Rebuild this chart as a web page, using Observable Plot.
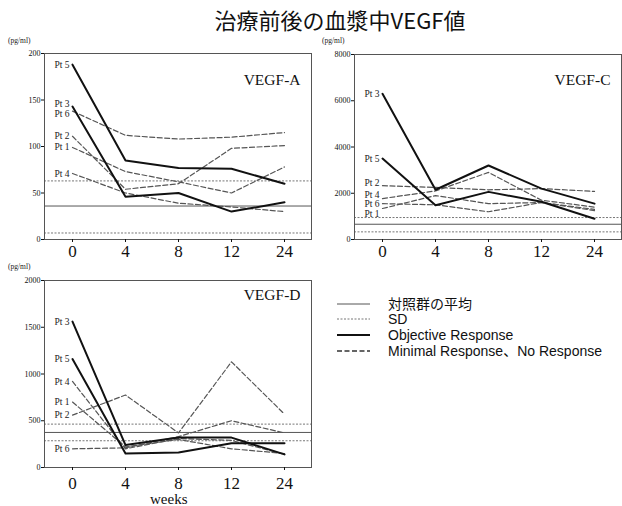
<!DOCTYPE html>
<html>
<head>
<meta charset="utf-8">
<script src="https://cdn.jsdelivr.net/npm/d3@7"></script>
<script src="https://cdn.jsdelivr.net/npm/@observablehq/plot@0.6"></script>
<style>
  html, body { margin: 0; padding: 0; background: #fff; }
  #root { position: relative; width: 622px; height: 506px; overflow: hidden; background: #fff; }
  .title { font-family: "Noto Sans CJK JP", "Noto Sans", sans-serif; font-size: 22px; color: #111; white-space: nowrap; }
  .unit { font-family: "Liberation Serif", serif; font-size: 7.5px; color: #222; white-space: nowrap; }
  .weeks { font-family: "Liberation Serif", serif; font-size: 15px; color: #111; }
</style>
</head>
<body>
<div id="root"></div>
<script>
// ---- data ----
const weeks = ["0", "4", "8", "12", "24"];
const patients = ["Pt 1", "Pt 2", "Pt 3", "Pt 4", "Pt 5", "Pt 6"];
const response = ["MR/NR", "MR/NR", "OR", "MR/NR", "OR", "MR/NR"];

// VEGF-A (pg/ml), rows = Pt 1..Pt 6, columns = weeks
const vegfA = [
  [99, 73, 62, 50, 78],
  [111, 54, 60, 98, 101],
  [143, 46, 50, 30, 40],
  [71, 50, 39, 35, 30],
  [188, 85, 77, 76, 60],
  [138, 112, 108, 110, 115]
];
const vegfAControl = [36, 63, 7]; // mean, mean+SD, mean-SD

const vegfC = [
  [1340, 1900, 1550, 1600, 1250],
  [2330, 2250, 2150, 2200, 2080],
  [6300, 2150, 3200, 2200, 1550],
  [1770, 2100, 2900, 1700, 1400],
  [3500, 1480, 2060, 1630, 900],
  [1550, 1500, 1200, 1600, 1300]
];
const vegfCControl = [660, 950, 330];

const vegfD = [
  [700, 220, 300, 200, 150],
  [560, 775, 370, 1130, 570],
  [1560, 240, 320, 320, 140],
  [920, 200, 310, 290, 140],
  [1160, 150, 160, 260, 260],
  [200, 210, 330, 500, 370]
];
const vegfDControl = [375, 464, 286];

const yTicksA = [0, 50, 100, 150, 200];
const yTicksC = [0, 2000, 4000, 6000, 8000];
const yTicksD = [0, 500, 1000, 1500, 2000];

const legendLabels = ["対照群の平均", "SD", "Objective Response", "Minimal Response、No Response"];

// ---- helpers ----
const root = document.getElementById("root");
function place(el, left, top) {
  el.style.position = "absolute";
  el.style.left = left + "px";
  el.style.top = top + "px";
  root.appendChild(el);
}
function rows(vals) {
  return patients.flatMap((p, i) => weeks.map((w, j) => ({patient: p, resp: response[i], week: w, value: vals[i][j]})));
}

function panel({vals, control, ticks, name, width, height, mt, mb, mr, nameDy, tickPad, nudge}) {
  const data = rows(vals);
  const labels = patients.map((p, i) => ({patient: p, value: vals[i][0], dy: (nudge[p] || 0)}));
  const serif = "Liberation Serif, serif";
  return Plot.plot({
    width, height,
    marginLeft: 44, marginRight: mr, marginTop: mt, marginBottom: mb,
    style: {fontFamily: serif, background: "transparent", color: "#111"},
    x: {type: "point", domain: weeks, padding: 0.5},
    y: {domain: [ticks[0], ticks[ticks.length - 1]]},
    marks: [
      Plot.ruleY([control[0]], {stroke: "#555", strokeWidth: 1}),
      Plot.ruleY([control[1], control[2]], {stroke: "#777", strokeWidth: 1, strokeDasharray: "2,1.5"}),
      Plot.line(data.filter(d => d.resp !== "OR"), {x: "week", y: "value", z: "patient", stroke: "#555", strokeWidth: 1.2, strokeDasharray: "5,2.5"}),
      Plot.line(data.filter(d => d.resp === "OR"), {x: "week", y: "value", z: "patient", stroke: "#111", strokeWidth: 2}),
      ...labels.map(l => Plot.text([l], {x: () => weeks[0], y: "value", text: "patient", textAnchor: "end", dx: -3, dy: l.dy, fontSize: 9.5, fill: "#222"})),
      Plot.text([name], {frameAnchor: "top-right", dx: -11, dy: nameDy, fontSize: 15.5, fill: "#111"}),
      Plot.frame({stroke: "#555", strokeWidth: 1}),
      Plot.axisY({ticks, tickSize: 3, tickPadding: 1, fontSize: 8, tickFormat: d => String(d), label: null}),
      Plot.axisX({tickSize: 3, tickPadding: tickPad, fontSize: 17, label: null})
    ]
  });
}

// ---- title ----
const title = document.createElement("div");
title.className = "title";
title.textContent = "治療前後の血漿中VEGF値";
place(title, 0, 3);
title.style.width = "680px";
title.style.textAlign = "center";

// ---- panels ----
const pA = panel({vals: vegfA, control: vegfAControl, ticks: yTicksA, name: "VEGF-A", width: 316, height: 234, mt: 23, mb: 25, mr: 5, nameDy: 20, tickPad: 2, nudge: {"Pt 3": -3, "Pt 6": 3}});
place(pA, 0, 30);
const pC = panel({vals: vegfC, control: vegfCControl, ticks: yTicksC, name: "VEGF-C", width: 312, height: 234, mt: 24, mb: 25, mr: 1, nameDy: 19, tickPad: 2, nudge: {"Pt 2": -3, "Pt 4": -4, "Pt 1": 5}});
place(pC, 310, 30);
const pD = panel({vals: vegfD, control: vegfDControl, ticks: yTicksD, name: "VEGF-D", width: 316, height: 232, mt: 17, mb: 28, mr: 5, nameDy: 8, tickPad: 6, nudge: {}});
place(pD, 0, 263);

// ---- units ----
[[8, 36], [322, 36], [8, 262]].forEach(([x, y]) => {
  const u = document.createElement("div");
  u.className = "unit";
  u.textContent = "(pg/ml)";
  place(u, x, y);
});
const wk = document.createElement("div");
wk.className = "weeks";
wk.textContent = "weeks";
place(wk, 150, 491);

// ---- legend ----
const ns = "http://www.w3.org/2000/svg";
const lg = document.createElementNS(ns, "svg");
lg.setAttribute("width", 300);
lg.setAttribute("height", 72);
const legendStyles = [
  {stroke: "#555", width: 1, dash: null},
  {stroke: "#777", width: 1, dash: "2,1.5"},
  {stroke: "#111", width: 2, dash: null},
  {stroke: "#333", width: 1.3, dash: "5,2.5"}
];
const legendY = [9, 24, 40, 56];
legendLabels.forEach((t, i) => {
  const ln = document.createElementNS(ns, "line");
  ln.setAttribute("x1", 17); ln.setAttribute("x2", 50);
  ln.setAttribute("y1", legendY[i]); ln.setAttribute("y2", legendY[i]);
  ln.setAttribute("stroke", legendStyles[i].stroke);
  ln.setAttribute("stroke-width", legendStyles[i].width);
  if (legendStyles[i].dash) ln.setAttribute("stroke-dasharray", legendStyles[i].dash);
  lg.appendChild(ln);
  const tx = document.createElementNS(ns, "text");
  tx.setAttribute("x", 68);
  tx.setAttribute("y", legendY[i]);
  tx.setAttribute("dy", "0.35em");
  tx.setAttribute("font-family", "Liberation Sans, Noto Sans CJK JP, sans-serif");
  tx.setAttribute("font-size", 14);
  tx.setAttribute("fill", "#111");
  tx.textContent = t;
  lg.appendChild(tx);
});
place(lg, 320, 295);
</script>
</body>
</html>
